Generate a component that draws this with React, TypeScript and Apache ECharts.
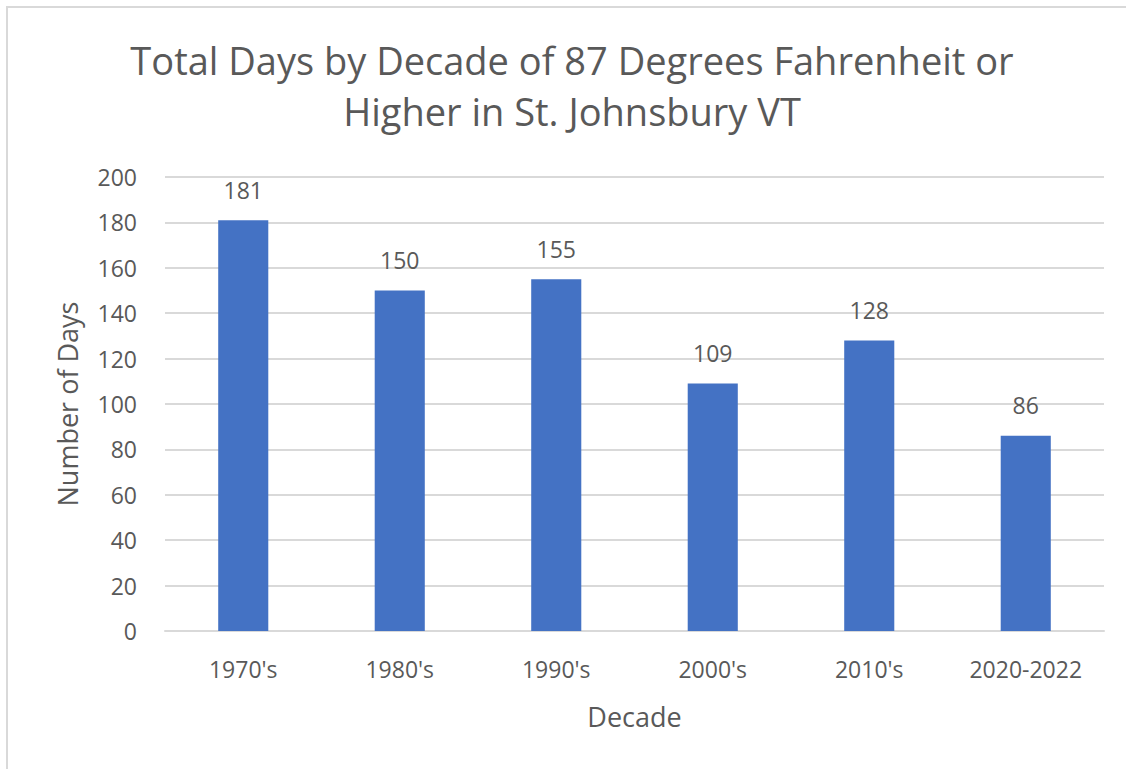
import React, { useEffect, useRef } from "react";
import * as echarts from "echarts";

const categories = ["1970's", "1980's", "1990's", "2000's", "2010's", "2020-2022"];
const values = [181, 150, 155, 109, 128, 86];
const titleText = "Total Days by Decade of 87 Degrees Fahrenheit or\nHigher in St. Johnsbury VT";
const yAxisName = "Number of Days";
const xAxisName = "Decade";

const FONT = "'Open Sans', 'Noto Sans', sans-serif";
const GREY = "#595959";

export default function App() {
  const ref = useRef<HTMLDivElement>(null);
  useEffect(() => {
    if (!ref.current) return;
    const chart = echarts.init(ref.current, null, { renderer: "svg" });
    chart.setOption({
      animation: false,
      backgroundColor: "#ffffff",
      textStyle: { fontFamily: FONT },
      graphic: [
        {
          type: "rect",
          shape: { x: 7, y: 7, width: 1140, height: 800 },
          style: { fill: "none", stroke: "#d9d9d9", lineWidth: 2 },
          silent: true,
        },
        {
          type: "text",
          x: 572,
          y: 34,
          silent: true,
          style: {
            text: titleText,
            fontFamily: FONT,
            fontSize: 38,
            fill: GREY,
            lineHeight: 51,
            align: "center",
            verticalAlign: "top",
          },
        },
      ],
      grid: { left: 165, right: 22, top: 177, bottom: 138, containLabel: false },
      xAxis: {
        type: "category",
        data: categories,
        name: xAxisName,
        nameLocation: "middle",
        nameGap: 72,
        nameTextStyle: { fontSize: 27, color: GREY, fontFamily: FONT },
        axisLine: { lineStyle: { color: "#d9d9d9", width: 2 } },
        axisTick: { show: false },
        axisLabel: { fontSize: 23, color: GREY, margin: 26, fontFamily: FONT },
      },
      yAxis: {
        type: "value",
        min: 0,
        max: 200,
        interval: 20,
        name: yAxisName,
        nameLocation: "middle",
        nameGap: 84,
        nameTextStyle: { fontSize: 27, color: GREY, fontFamily: FONT },
        axisLine: { show: false },
        axisTick: { show: false },
        axisLabel: { fontSize: 23, color: GREY, margin: 28, fontFamily: FONT },
        splitLine: { lineStyle: { color: "#d9d9d9", width: 2 } },
      },
      series: [
        {
          type: "bar",
          data: values,
          barWidth: "32%",
          itemStyle: { color: "#4472c4" },
          label: {
            show: true,
            position: "top",
            distance: 19,
            fontSize: 23,
            color: GREY,
            fontFamily: FONT,
          },
        },
      ],
    });
    return () => chart.dispose();
  }, []);
  return (
    <div
      ref={ref}
      style={{ position: "fixed", left: 0, top: 0, width: 1126, height: 769 }}
    />
  );
}
